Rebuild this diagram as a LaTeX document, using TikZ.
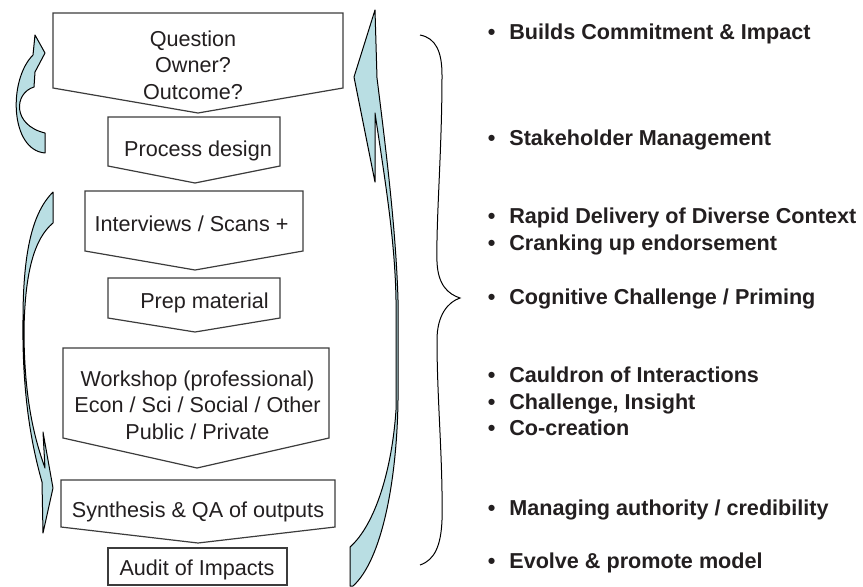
\documentclass[tikz,border=0pt]{standalone}
\usepackage{fontspec}
\setmainfont{Liberation Sans}
\definecolor{flowblue}{RGB}{185,222,227}
\definecolor{inkgray}{RGB}{35,31,32}
\definecolor{edgegray}{RGB}{60,60,60}

\begin{document}
\begin{tikzpicture}[x=0.75pt, y=-0.75pt,
		boxline/.style={draw=edgegray, line width=0.9pt, fill=white},
		bandarrow/.style={draw=black, line width=0.75pt, fill=flowblue, line join=round},
		boxtext/.style={inner sep=0pt, text=inkgray, font=\fontsize{16.2}{19.9}\selectfont, align=center},
		benefit/.style={inner sep=0pt, anchor=base west, text=inkgray, font=\fontsize{16.2}{19.9}\selectfont\bfseries}]
		\useasboundingbox (0,0) rectangle (863,586);
		% loop back into the question
		\draw[bandarrow] (35,35) -- (45,53) -- (35,72) -- (34,87) .. controls (14,93) and (12,125) .. (45,133) -- (45,153) .. controls (10,150) and (8,80) .. (33,55) -- cycle;
		% long arrow down the left
		\draw[bandarrow] (53,192) .. controls (33,212) and (23,250) .. (23,320) .. controls (22,400) and (33,450) .. (42,482) -- (43,533) -- (53,488) -- (43,432) -- (45,468) .. controls (35,440) and (24,400) .. (24,330) .. controls (25,270) and (35,238) .. (53,223) -- cycle;
		% long arrow up the right
		\draw[bandarrow] (375,10) -- (354,77) -- (375,182) -- (375,113) .. controls (385,180) and (395,240) .. (396,300) -- (396,410) .. controls (392,470) and (375,525) .. (350,547) -- (350,586) -- (353,586) .. controls (382,560) and (397,480) .. (398,400) -- (398,300) .. controls (396,230) and (386,150) .. (377,78) -- cycle;
		% process steps
		\draw[boxline] (53,13) -- (343,13) -- (343,88) -- (198,113) -- (53,88) -- cycle;
		\draw[boxline] (108,117) -- (280,117) -- (280,166) -- (195,183) -- (108,166) -- cycle;
		\draw[boxline] (85,191) -- (303,191) -- (303,251) -- (195,270) -- (85,251) -- cycle;
		\draw[boxline] (108,278) -- (280,278) -- (280,318) -- (195,332) -- (108,318) -- cycle;
		\draw[boxline] (63,348) -- (329,348) -- (329,438) -- (197,468) -- (63,438) -- cycle;
		\draw[boxline] (61,480) -- (335,480) -- (335,527) -- (198,543) -- (61,527) -- cycle;
		\draw[boxline] (108,548) rectangle (287,585);
		\node[boxtext] (question) at (193,65) {Question\\Owner?\\Outcome?};
		\node[boxtext, anchor=base] (design) at (198,156.7) {Process design};
		\node[boxtext, anchor=base] (scans) at (191.5,231.7) {Interviews / Scans +};
		\node[boxtext, anchor=base] (prep) at (204.5,308.3) {Prep material};
		\node[boxtext] (workshop) at (197.5,405) {Workshop (professional)\\Econ / Sci / Social / Other\\Public / Private};
		\node[boxtext, anchor=base] (synth) at (198,517.3) {Synthesis \& QA of outputs};
		\node[boxtext, anchor=base] (audit) at (197,575) {Audit of Impacts};
		% brace and benefits
		\draw[line width=0.75pt] (420,35) .. controls (436,38) and (442,52) .. (442,75) .. controls (442,150) and (436,220) .. (437,262) .. controls (438,285) and (448,294) .. (460,298) .. controls (448,302) and (437,315) .. (437,340) .. controls (437,400) and (443,460) .. (442,520) .. controls (441,545) and (435,560) .. (420,565);
		\foreach [count=\i] \yy/\txt in {39.5/Builds Commitment \& Impact, 145.7/Stakeholder Management, 223.3/Rapid Delivery of Diverse Context, 250/Cranking up endorsement, 304/{Cognitive Challenge / Priming}, 382.7/Cauldron of Interactions, 409.3/{Challenge, Insight}, 435.7/Co-creation, 515/{Managing authority / credibility}, 568.3/Evolve \& promote model}{
			\node[benefit] (gain\i) at (487.5,\yy) {\makebox[1em][l]{\textbullet}\txt};
		}
	\end{tikzpicture}
\end{document}
